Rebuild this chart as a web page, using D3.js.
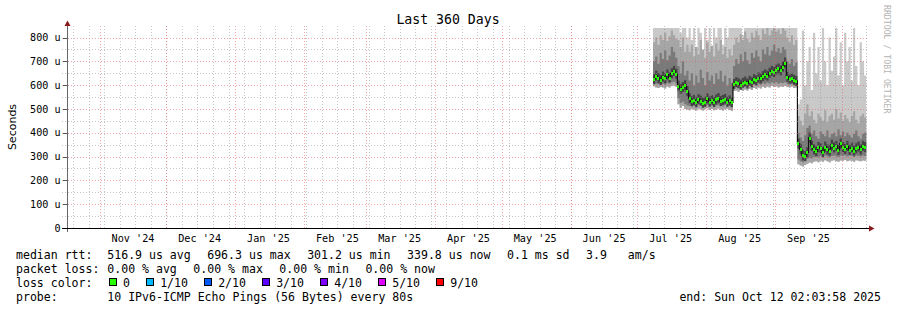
<!DOCTYPE html>
<html>
<head>
<meta charset="utf-8">
<script src="https://cdn.jsdelivr.net/npm/d3@7"></script>
<style>
    body { margin: 0; background: #fff; }
    svg { display: block; }
    text { font-family: 'DejaVu Sans Mono', monospace; fill: #000; white-space: pre; }
</style>
</head>
<body>
<div id="chart"></div>
<script>
//Rango temporal del gráfico (360 días)
const START = new Date(2024, 9, 17, 2, 3, 58);
const END = new Date(2025, 9, 12, 2, 3, 58);
const FIRST_DAY = new Date(2025, 6, 8);

//Mediana diaria (us)
const medianRtt = [
    625, 640, 630, 622, 636, 628, 645, 632, 650, 660, 648,
    598, 585, 592, 600, 575,
    545, 532, 538, 528, 541, 535, 526, 530, 544, 531, 537, 529, 540, 546, 533, 538, 542, 530, 536, 528,
    605, 612, 608, 602, 610, 615, 607, 618, 612, 625, 620, 632, 628, 638, 645, 640, 652, 660, 655, 665, 670, 662, 678, 695,
    635, 625, 628, 622, 618,
    355, 330, 305, 302, 318, 380, 345, 330, 322, 340, 335, 318, 342, 330, 325, 350, 338, 345, 328, 355, 340, 332, 345, 328, 338, 325, 335, 342, 330, 345, 340
];

//Humo: mínimo, núcleo inferior, núcleo superior, zona media y máximo
const minRtt = [
    595, 590, 588, 592, 590, 586, 594, 590, 596, 598, 592,
    520, 505, 512, 500, 498,
    495, 500, 497, 493, 502, 498, 494, 499, 503, 496, 500, 495, 498, 502, 497, 494, 499, 501, 496, 492,
    575, 578, 572, 580, 576, 582, 578, 585, 580, 588, 584, 590, 586, 592, 588, 594, 590, 596, 592, 595, 590, 594, 592, 596,
    592, 590, 594, 588, 590,
    268, 262, 258, 265, 270, 275, 272, 278, 280, 276, 282, 278, 285, 280, 276, 282, 285, 280, 278, 284, 282, 286, 280, 284, 282, 278, 285, 282, 280, 284, 282
];
const lowRtt = [
    608, 606, 604, 606, 606, 602, 610, 606, 612, 614, 608,
    545, 525, 530, 520, 515,
    512, 516, 512, 508, 518, 514, 508, 514, 518, 510, 516, 510, 514, 518, 512, 510, 516, 518, 512, 508,
    590, 594, 588, 596, 592, 598, 594, 600, 596, 604, 600, 606, 602, 608, 604, 610, 606, 612, 608, 612, 606, 610, 608, 612,
    606, 604, 608, 602, 604,
    288, 280, 276, 284, 290, 294, 292, 298, 300, 296, 302, 298, 305, 300, 296, 302, 305, 300, 298, 304, 302, 306, 300, 304, 302, 298, 305, 302, 300, 304, 302
];
const highRtt = [
    700, 720, 690, 735, 710, 745, 705, 725, 760, 740, 715,
    680, 650, 700, 640, 660,
    620, 650, 600, 640, 610, 665, 630, 600, 655, 620, 640, 605, 650, 625, 660, 615, 640, 600, 630, 610,
    680, 710, 690, 730, 700, 740, 705, 690, 735, 715, 745, 720, 700, 750, 730, 760, 725, 745, 770, 740, 755, 735, 760, 750,
    700, 690, 710, 680, 695,
    400, 380, 365, 390, 420, 430, 395, 410, 385, 375, 405, 395, 385, 410, 380, 395, 400, 385, 415, 390, 405, 385, 400, 390, 380, 395, 410, 385, 375, 395, 400
];
const midRtt = [
    780, 800, 770, 810, 790, 820, 785, 805, 830, 810, 795,
    790, 760, 800, 740, 770,
    740, 770, 720, 760, 730, 790, 750, 715, 780, 740, 765, 720, 775, 745, 790, 730, 760, 715, 750, 725,
    770, 800, 780, 815, 790, 825, 795, 780, 820, 800, 830, 810, 790, 835, 815, 840, 810, 830, 840, 825, 835, 815, 840, 830,
    800, 780, 810, 770, 790,
    470, 450, 430, 480, 520, 470, 490, 455, 440, 480, 465, 450, 495, 445, 470, 480, 455, 500, 460, 485, 450, 475, 460, 445, 470, 490, 455, 440, 470, 480, 465
];
const maxRtt = [
    840, 840, 840, 840, 840, 840, 840, 840, 840, 840, 840,
    840, 820, 840, 840, 800,
    840, 790, 840, 760, 840, 820, 740, 840, 790, 840, 760, 840, 800, 840, 840, 770, 840, 800, 840, 840,
    840, 840, 840, 840, 810, 840, 840, 840, 840, 840, 840, 840, 840, 840, 840, 840, 840, 840, 840, 840, 840, 840, 840, 840,
    840, 840, 840, 840, 840,
    520, 540, 830, 600, 700, 760, 580, 820, 650, 760, 620, 840, 700, 600, 800, 660, 720, 840, 640, 780, 600, 820, 700, 760, 620, 840, 680, 600, 780, 700, 640
];

//Ejes
const yTicks = [0, 100, 200, 300, 400, 500, 600, 700, 800];
const yTickLabels = ['0', '100 u', '200 u', '300 u', '400 u', '500 u', '600 u', '700 u', '800 u'];
const yMinorTicks = [50, 150, 250, 350, 450, 550, 650, 750];

//Leyenda
const rttLine = ['516.9 us avg', '696.3 us max', '301.2 us min', '339.8 us now', '0.1 ms sd', '3.9   am/s'];
const lossLine = ['0.00 % avg', '0.00 % max', '0.00 % min', '0.00 % now'];
const lossLabels = ['0', '1/10', '2/10', '3/10', '4/10', '5/10', '9/10'];
const lossColors = ['#26ff00', '#00b8ff', '#0059ff', '#5e00ff', '#7e00ff', '#dd00ff', '#ff0000'];
const probeText = '10 IPv6-ICMP Echo Pings (56 Bytes) every 80s';
const endText = 'end: Sun Oct 12 02:03:58 2025';

const W = 897, H = 310;
const GRID_MINOR = 'rgba(140,140,140,0.5)', GRID_MAJOR = 'rgba(235,80,80,0.5)', ARROW = '#8b1a1a';

let svg = d3.select('#chart').append('svg')
    .attr('width', W)
    .attr('height', H);

let x = d3.scaleTime().domain([START, END]).range([66.5, 866.5]);
let y = d3.scaleLinear().domain([0, 840]).range([228, 28]);

let rows = medianRtt.map(function(m, i) {
    return { date: d3.timeDay.offset(FIRST_DAY, i), med: m, min: minRtt[i], low: lowRtt[i], high: highRtt[i], mid: midRtt[i], max: maxRtt[i] };
});
let stepRows = rows.concat([Object.assign({}, rows[rows.length - 1], { date: END })]);

svg.append('clipPath').attr('id', 'plot')
    .append('rect').attr('x', 66.5).attr('y', 28).attr('width', 800).attr('height', 200);

//Humo
let plot = svg.append('g').attr('clip-path', 'url(#plot)');

function band(lo, hi, color) {
    let area = d3.area()
        .x(function(d) { return x(d.date); })
        .y0(function(d) { return y(d[lo]); })
        .y1(function(d) { return y(d[hi]); })
        .curve(d3.curveStepAfter);
    plot.append('path').datum(stepRows).attr('d', area).attr('fill', color);
}
band('min', 'max', '#c9c9c9');
band('min', 'mid', '#a6a6a6');
band('low', 'high', '#7a7a7a');

//Núcleo oscuro alrededor de la mediana
plot.append('g').selectAll('rect').data(rows).enter().append('rect')
    .attr('x', function(d) { return x(d.date); })
    .attr('width', function(d) { return x(d3.timeDay.offset(d.date, 1)) - x(d.date); })
    .attr('y', function(d) { return y(d.med) - 5; })
    .attr('height', 10)
    .attr('fill', '#444');

plot.append('path').datum(stepRows)
    .attr('d', d3.line().x(function(d) { return x(d.date); }).y(function(d) { return y(d.med); }).curve(d3.curveStepAfter))
    .attr('fill', 'none')
    .attr('stroke', '#111')
    .attr('stroke-width', 1.2);

plot.append('g').attr('shape-rendering', 'crispEdges')
    .selectAll('rect').data(rows).enter().append('rect')
    .attr('x', function(d) { return Math.round(x(d.date)); })
    .attr('width', 2)
    .attr('y', function(d) { return Math.round(y(d.med)) - 1; })
    .attr('height', 3)
    .attr('fill', lossColors[0]);

//Rejilla
let grid = svg.append('g').attr('shape-rendering', 'crispEdges');

grid.selectAll('.hminor').data(yMinorTicks).enter().append('line')
    .attr('x1', 62).attr('x2', 866.5)
    .attr('y1', function(d) { return Math.round(y(d)) + 0.5; })
    .attr('y2', function(d) { return Math.round(y(d)) + 0.5; })
    .attr('stroke', GRID_MINOR).attr('stroke-dasharray', '1,2');

let weeks = d3.timeSunday.range(START, END);
let months = d3.timeMonth.range(START, END);

grid.selectAll('.vminor').data(weeks).enter().append('line')
    .attr('x1', function(d) { return Math.round(x(d)) + 0.5; })
    .attr('x2', function(d) { return Math.round(x(d)) + 0.5; })
    .attr('y1', 26).attr('y2', 228)
    .attr('stroke', GRID_MINOR).attr('stroke-dasharray', '1,2');

grid.selectAll('.hmajor').data(yTicks.slice(1)).enter().append('line')
    .attr('x1', 62).attr('x2', 866.5)
    .attr('y1', function(d) { return Math.round(y(d)) + 0.5; })
    .attr('y2', function(d) { return Math.round(y(d)) + 0.5; })
    .attr('stroke', GRID_MAJOR).attr('stroke-dasharray', '1,2');

grid.selectAll('.vmajor').data(months).enter().append('line')
    .attr('x1', function(d) { return Math.round(x(d)) + 0.5; })
    .attr('x2', function(d) { return Math.round(x(d)) + 0.5; })
    .attr('y1', 26).attr('y2', 228)
    .attr('stroke', GRID_MAJOR).attr('stroke-dasharray', '1,2');

//Marcas del eje Y
grid.selectAll('.ytick').data(yTicks).enter().append('line')
    .attr('x1', 63).attr('x2', 67)
    .attr('y1', function(d) { return Math.round(y(d)) + 0.5; })
    .attr('y2', function(d) { return Math.round(y(d)) + 0.5; })
    .attr('stroke', '#555');

//Ejes y flechas
svg.append('line').attr('x1', 67.5).attr('x2', 67.5).attr('y1', 232).attr('y2', 25)
    .attr('stroke', '#666').attr('shape-rendering', 'crispEdges');
svg.append('line').attr('x1', 62).attr('x2', 870).attr('y1', 228.5).attr('y2', 228.5)
    .attr('stroke', '#000').attr('shape-rendering', 'crispEdges');
svg.append('path').attr('d', 'M64.5,26 L67.5,20.5 L70.5,26 Z').attr('fill', ARROW);
svg.append('path').attr('d', 'M869,225.5 L874.5,228.5 L869,231.5 Z').attr('fill', ARROW);

//Etiquetas de ejes
svg.append('g').selectAll('text').data(yTicks).enter().append('text')
    .attr('x', 60.5)
    .attr('y', function(d) { return y(d) + 3.7; })
    .attr('text-anchor', 'end')
    .style('font-size', '10.1px')
    .text(function(d, i) { return yTickLabels[i]; });

let fmtMonth = d3.timeFormat("%b '%y");
svg.append('g').selectAll('text')
    .data(months.filter(function(d) { return d3.timeDay.offset(d, 15) < END; }))
    .enter().append('text')
    .attr('x', function(d) { return x(d3.timeDay.offset(d, 15)); })
    .attr('y', 241.5)
    .attr('text-anchor', 'middle')
    .style('font-size', '10.2px')
    .text(function(d) { return fmtMonth(d); });

svg.append('text')
    .attr('x', 448).attr('y', 24)
    .attr('text-anchor', 'middle')
    .style('font-size', '13.2px')
    .text('Last 360 Days');

svg.append('text')
    .attr('transform', 'translate(15.5,127) rotate(-90)')
    .attr('text-anchor', 'middle')
    .style('font-family', "'DejaVu Sans', sans-serif")
    .style('font-size', '11px')
    .text('Seconds');

svg.append('text')
    .attr('transform', 'translate(884,5) rotate(90)')
    .style('font-size', '8.2px')
    .style('fill', '#b4b4b4')
    .text('RRDTOOL / TOBI OETIKER');

//Leyenda
const LX = 16, VX = 107.3, GAP = 16.5;
let legend = svg.append('g').style('font-size', '11.55px');

function legendRow(label, items, baseline) {
    legend.append('text').attr('x', LX).attr('y', baseline).text(label);
    let cx = VX;
    items.forEach(function(t) {
        let el = legend.append('text').attr('x', cx).attr('y', baseline).text(t);
        cx += el.node().getComputedTextLength() + GAP;
    });
}
legendRow('median rtt:', rttLine, 258.5);
legendRow('packet loss:', lossLine, 272.5);
legendRow('probe:', [probeText], 300.5);

legend.append('text').attr('x', LX).attr('y', 286.5).text('loss color:');
let bx = VX + 1.4;
lossLabels.forEach(function(l, i) {
    legend.append('rect')
        .attr('x', bx + 0.5).attr('y', 278.5)
        .attr('width', 7).attr('height', 7)
        .attr('fill', lossColors[i])
        .attr('stroke', '#000')
        .attr('shape-rendering', 'crispEdges');
    let el = legend.append('text').attr('x', bx + 14.3).attr('y', 286.5).text(l);
    bx += 14.3 + el.node().getComputedTextLength() + GAP - 0.6;
});

legend.append('text')
    .attr('x', 881).attr('y', 300.5)
    .attr('text-anchor', 'end')
    .text(endText);
</script>
</body>
</html>
